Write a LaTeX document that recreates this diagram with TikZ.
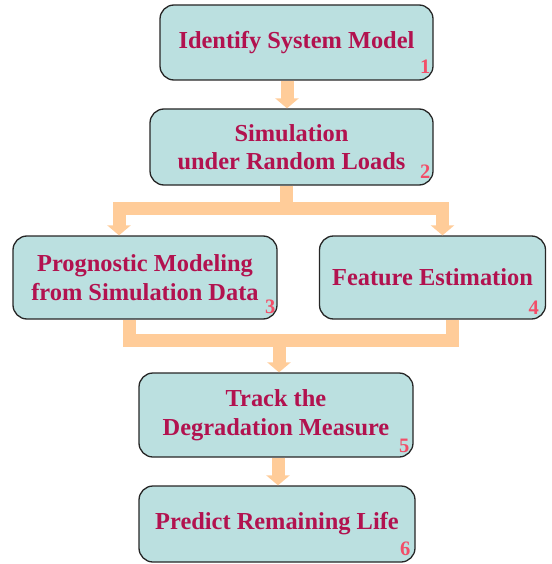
\documentclass[tikz,border=0pt]{standalone}
\usepackage{fontspec}
\setmainfont{Liberation Serif}
\usetikzlibrary{arrows.meta}
\definecolor{boxfill}{HTML}{BBE0E0}
\definecolor{txt}{HTML}{B2124F}
\definecolor{numc}{HTML}{F24E68}
\definecolor{peach}{HTML}{FFCC99}
\begin{document}
\begin{tikzpicture}[x=1pt,y=-1pt,
  stepbox/.style={draw=black!85, line width=1.3pt, fill=boxfill, rounded corners=14pt,
    align=center, text=txt, font=\fontsize{24.4}{28.5}\selectfont\bfseries, inner sep=0pt},
  numlab/.style={text=numc, font=\fontsize{20.5}{20.5}\selectfont\bfseries, inner sep=0pt, anchor=base east},
  bar/.style={draw=peach, line width=13pt},
  flow/.style={bar, -{Triangle[width=23pt,length=10pt]}}]
\useasboundingbox (0,0) rectangle (551,564);

% boxes
\node[stepbox, minimum width=273pt, minimum height=75pt] (b1) at (296.5,42.5) {Identify System Model};
\node[stepbox, minimum width=283pt, minimum height=76pt] (b2) at (291.5,147) {Simulation\\under Random Loads};
\node[stepbox, minimum width=264pt, minimum height=83pt] (b3) at (145,277.5) {Prognostic Modeling\\from Simulation Data};
\node[stepbox, minimum width=226pt, minimum height=83pt] (b4) at (432.5,277.5) {Feature Estimation};
\node[stepbox, minimum width=274pt, minimum height=84pt] (b5) at (276,415) {Track the\\Degradation Measure};
\node[stepbox, minimum width=276pt, minimum height=76pt] (b6) at (277,524) {Predict Remaining Life};

% numbers
\node[numlab] (n1) at ([xshift=-3pt,yshift=7pt]b1.south east) {1};
\node[numlab] (n2) at ([xshift=-3pt,yshift=7.5pt]b2.south east) {2};
\node[numlab] (n3) at ([xshift=-2pt,yshift=6pt]b3.south east) {3};
\node[numlab] (n4) at ([xshift=-7pt,yshift=5pt]b4.south east) {4};
\node[numlab] (n5) at ([xshift=-4pt,yshift=5.5pt]b5.south east) {5};
\node[numlab] (n6) at ([xshift=-5pt,yshift=7.5pt]b6.south east) {6};

% connector coordinates
\coordinate (a12) at (287,0);
\coordinate (s) at (286.5,208.5);
\coordinate (l) at (119,208.5);
\coordinate (r) at (442.5,208.5);
\coordinate (m) at (279,340);
\coordinate (l2) at (129.5,340);
\coordinate (r2) at (452.5,340);
\coordinate (a56) at (278,0);

% connectors
\draw[flow] (a12 |- b1.south) -- (a12 |- b2.north);
\draw[bar] (s |- b2.south) -- (s);
\draw[flow, line join=miter] (s) -| (l |- b3.north);
\draw[flow, line join=miter] (s) -| (r |- b4.north);
\draw[bar, line join=miter] (l2 |- b3.south) |- (m);
\draw[bar, line join=miter] (r2 |- b4.south) |- (m);
\draw[flow] (m) -- (m |- b5.north);
\draw[flow] (a56 |- b5.south) -- (a56 |- b6.north);
\end{tikzpicture}
\end{document}
